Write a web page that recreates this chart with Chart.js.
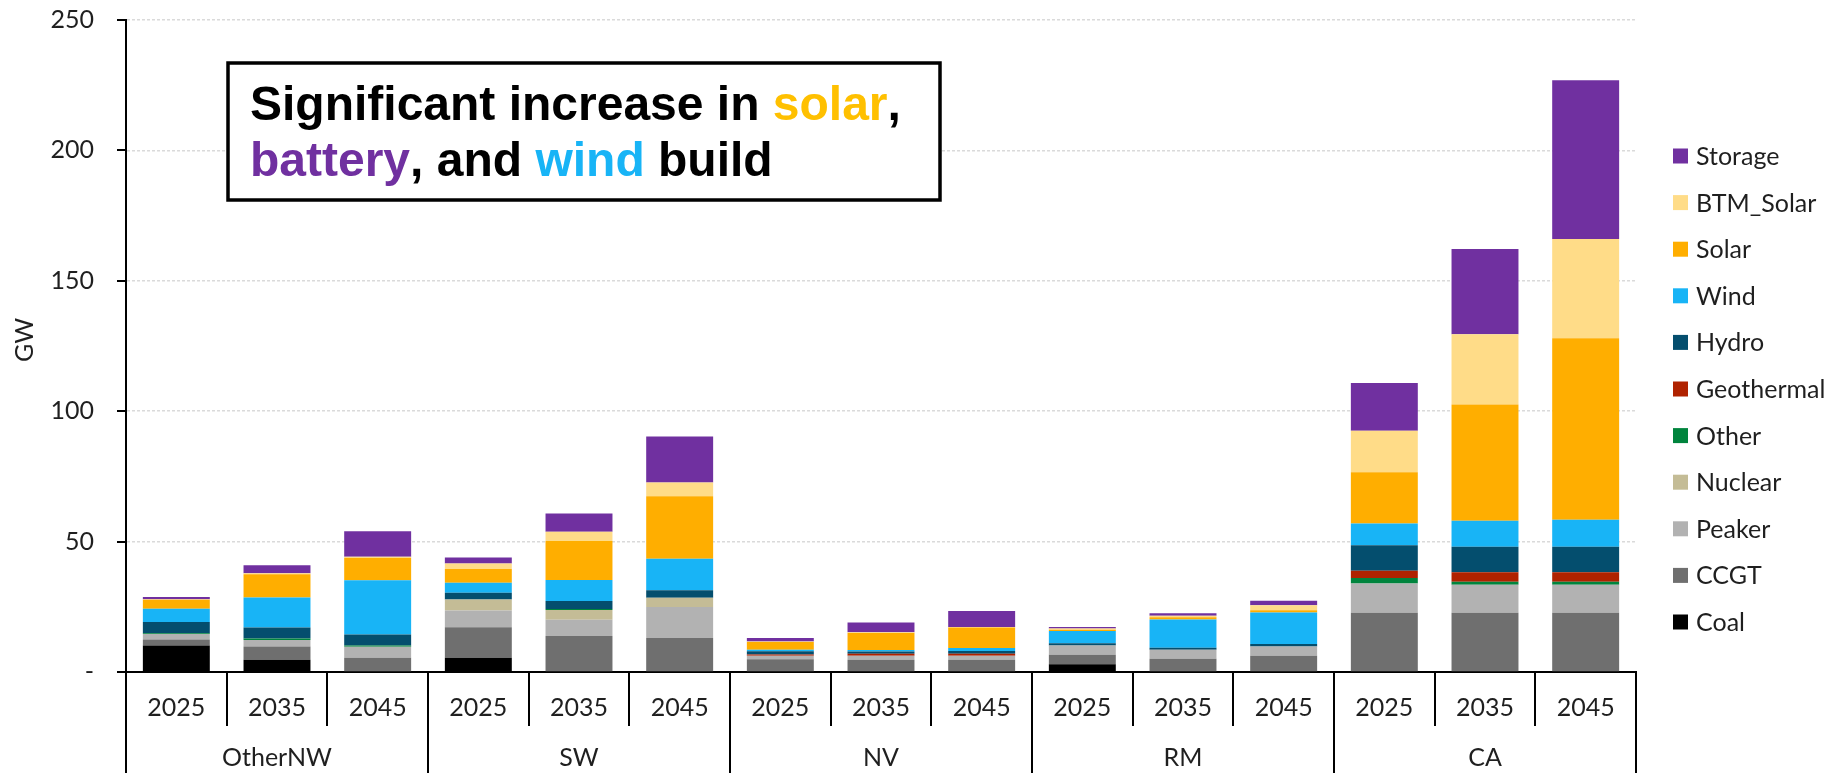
<!DOCTYPE html>
<html>
<head>
<meta charset="utf-8">
<script src="https://cdn.jsdelivr.net/npm/chart.js@4.4.1/dist/chart.umd.min.js"></script>
<style>
  html, body { margin: 0; padding: 0; background: #fff; }
  canvas { display: block; }
</style>
</head>
<body>
<canvas id="capacity" width="1834" height="773"></canvas>
<script>
// Regions and study years (each region has one bar per year)
const regions = ['OtherNW', 'SW', 'NV', 'RM', 'CA'];
const years = ['2025', '2035', '2045'];
const yTicks = [0, 50, 100, 150, 200, 250];

// Installed capacity by resource, GW
// order: OtherNW 2025/2035/2045, SW ..., NV ..., RM ..., CA ...
const coal       = [10.2, 4.7, 0,    5.5, 0,    0,    0,   0,   0,   3.0, 0,    0,    0,    0,    0];
const ccgt       = [2.3,  5.1, 5.5, 11.7, 13.8, 13.0, 4.9, 4.7, 4.7, 3.6, 5.1,  6.2,  22.7, 22.7, 22.7];
const peaker     = [2.1,  2.5, 4.2,  6.4, 6.2,  11.9, 1.3, 1.5, 1.5, 3.6, 3.4,  3.6,  11.2, 10.8, 10.8];
const nuclear    = [0,    0,   0,    4.2, 3.8,  3.6,  0,   0,   0,   0,   0,    0,    0,    0,    0];
const other      = [0.3,  0.5, 0.5,  0,   0.4,  0,    0,   0,   0,   0,   0,    0,    2.1,  1.1,  1.1];
const geothermal = [0,    0,   0,    0,   0,    0,    0.5, 0.8, 0.8, 0,   0,    0,    2.8,  3.6,  3.6];
const hydro      = [4.3,  4.3, 4.2,  2.6, 3.0,  2.8,  1.3, 0.9, 1.1, 0.8, 0.8,  0.9,  9.8,  9.8,  9.8];
const wind       = [5.1, 11.5, 20.8, 3.8, 8.1,  12.1, 0.5, 0.5, 1.1, 4.7, 10.8, 12.1, 8.3,  10.0, 10.4];
const solar      = [3.4,  8.9, 8.5,  5.3, 14.9, 24.0, 3.0, 6.6, 7.9, 0.5, 0.9,  0.9,  19.7, 44.6, 69.6];
const btmSolar   = [0.2,  0.4, 0.5,  2.1, 3.6,  5.3,  0.2, 0.2, 0.2, 0.5, 0.6,  1.9,  15.9, 26.9, 38.0];
const storage    = [0.9,  3.0, 9.8,  2.3, 7.0,  17.6, 1.3, 3.8, 6.1, 0.6, 0.9,  1.7,  18.3, 32.7, 60.9];

const seriesNames  = ['Coal', 'CCGT', 'Peaker', 'Nuclear', 'Other', 'Geothermal', 'Hydro', 'Wind', 'Solar', 'BTM_Solar', 'Storage'];
const seriesValues = [coal, ccgt, peaker, nuclear, other, geothermal, hydro, wind, solar, btmSolar, storage];
const seriesColors = ['#000000', '#6f6f6f', '#b2b2b2', '#c4bc96', '#00843d', '#b02200', '#044e6e', '#18b4f6', '#ffae00', '#ffdc88', '#7030a0'];

const FONT = 'Lato';
const TEXT = '#1f1f1f';

// one x category per region/year pair
const categories = [];
regions.forEach(() => years.forEach(y => categories.push(y)));

const datasets = seriesNames.map((name, i) => ({
  label: name,
  data: seriesValues[i],
  backgroundColor: seriesColors[i],
  borderWidth: 0,
  barPercentage: 0.665,
  categoryPercentage: 1.0
}));

// Region table under the axis, y tick marks, the headline box and the legend
const decorations = {
  id: 'decorations',
  afterDraw(chart) {
    const { ctx, chartArea: a, scales: { x, y } } = chart;
    ctx.save();

    // short outward tick marks on the value axis
    ctx.strokeStyle = '#000';
    ctx.lineWidth = 2;
    yTicks.forEach(v => {
      const py = Math.round(y.getPixelForValue(v));
      ctx.beginPath();
      ctx.moveTo(a.left - 9, py);
      ctx.lineTo(a.left, py);
      ctx.stroke();
    });

    // separators of the two-level category table
    const n = categories.length;
    const step = (a.right - a.left) / n;
    for (let k = 0; k <= n; k++) {
      const px = Math.round(a.left + k * step);
      const groupEdge = k % years.length === 0;
      ctx.beginPath();
      ctx.moveTo(px, a.bottom);
      ctx.lineTo(px, groupEdge ? chart.height : a.bottom + 54);
      ctx.stroke();
    }

    ctx.font = '25px ' + FONT;
    ctx.fillStyle = TEXT;
    ctx.textAlign = 'center';
    ctx.textBaseline = 'middle';
    regions.forEach((r, i) => {
      const first = x.getPixelForValue(i * years.length);
      const last = x.getPixelForValue(i * years.length + years.length - 1);
      ctx.fillText(r, (first + last) / 2, 758);
    });

    // y axis title
    ctx.save();
    ctx.translate(25, 340);
    ctx.rotate(-Math.PI / 2);
    ctx.fillText('GW', 0, 0);
    ctx.restore();

    // legend, top item = last stacked series
    ctx.textAlign = 'left';
    const items = chart.data.datasets.slice().reverse();
    items.forEach((d, i) => {
      const cy = 156 + i * 46.6;
      ctx.fillStyle = d.backgroundColor;
      ctx.fillRect(1673, cy - 7.5, 15, 15);
      ctx.fillStyle = TEXT;
      ctx.fillText(d.label, 1696, cy + 1);
    });

    // headline box
    const bx = 228, by = 63, bw = 712, bh = 137;
    ctx.fillStyle = '#fff';
    ctx.fillRect(bx, by, bw, bh);
    ctx.lineWidth = 3.5;
    ctx.strokeStyle = '#000';
    ctx.strokeRect(bx, by, bw, bh);

    const lines = [
      [['Significant increase in ', '#000'], ['solar', '#ffc000'], [',', '#000']],
      [['battery', '#7030a0'], [', and ', '#000'], ['wind', '#18b4f6'], [' build', '#000']]
    ];
    ctx.font = 'bold 48px "Liberation Sans", Arial, sans-serif';
    ctx.textBaseline = 'alphabetic';
    lines.forEach((runs, li) => {
      let tx = 250;
      const ty = 120 + li * 56;
      runs.forEach(([t, c]) => {
        ctx.fillStyle = c;
        ctx.fillText(t, tx, ty);
        tx += ctx.measureText(t).width;
      });
    });

    ctx.restore();
  }
};

new Chart(document.getElementById('capacity'), {
  type: 'bar',
  data: { labels: categories, datasets },
  options: {
    responsive: false,
    animation: false,
    devicePixelRatio: 1,
    layout: { padding: { left: 0, right: 198, top: 20, bottom: 0 } },
    plugins: { legend: { display: false }, tooltip: { enabled: false } },
    scales: {
      x: {
        stacked: true,
        offset: true,
        grid: { display: false, drawTicks: false },
        border: { display: true, color: '#000', width: 2 },
        ticks: { font: { family: FONT, size: 25 }, color: TEXT, padding: 21, maxRotation: 0, autoSkip: false },
        afterFit(s) { s.height = 101; }
      },
      y: {
        stacked: true,
        min: 0,
        max: 250,
        afterBuildTicks(s) { s.ticks = yTicks.map(v => ({ value: v })); },
        grid: {
          color: c => (c.tick && c.tick.value === 0) ? 'rgba(0,0,0,0)' : '#dadada',
          lineWidth: 1.5,
          tickColor: 'rgba(0,0,0,0)',
          tickLength: 32
        },
        border: { display: true, color: '#000', width: 2, dash: [3, 2] },
        ticks: {
          font: { family: FONT, size: 25 },
          color: TEXT,
          padding: 0,
          callback: v => (v === 0 ? '-' : String(v))
        },
        afterFit(s) { s.width = 126; }
      }
    }
  },
  plugins: [decorations]
});
</script>
</body>
</html>
